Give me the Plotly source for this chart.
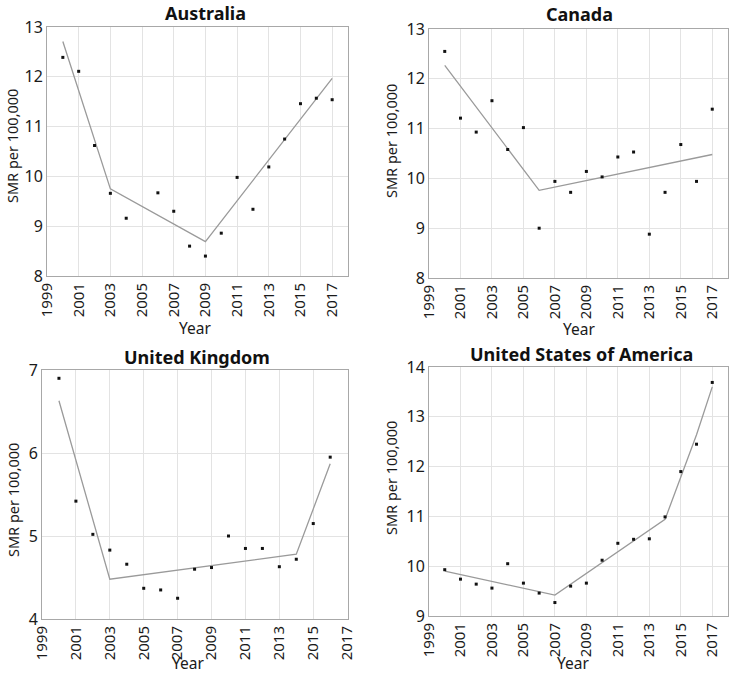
import plotly.graph_objects as go

years = list(range(2000, 2018))
uk_years = list(range(2000, 2017))

aus_obs = [12.39, 12.11, 10.62, 9.66, 9.16, 7.97, 9.67, 9.30, 8.60, 8.40, 8.86, 9.98, 9.34, 10.19, 10.75, 11.46, 11.57, 11.54]
aus_fit_x = [2000, 2003, 2009, 2017]
aus_fit_y = [12.71, 9.75, 8.69, 11.97]

can_obs = [12.55, 11.21, 10.93, 11.56, 10.58, 11.02, 9.00, 9.94, 9.72, 10.14, 10.03, 10.43, 10.53, 8.88, 9.72, 10.68, 9.94, 11.39]
can_fit_x = [2000, 2006, 2017]
can_fit_y = [12.27, 9.76, 10.48]

uk_obs = [6.90, 5.42, 5.02, 4.83, 4.66, 4.37, 4.35, 4.25, 4.60, 4.62, 5.00, 4.85, 4.85, 4.63, 4.72, 5.15, 5.95]
uk_fit_x = [2000, 2003, 2014, 2016]
uk_fit_y = [6.63, 4.48, 4.78, 5.87]

usa_obs = [9.93, 9.74, 9.64, 9.56, 10.05, 9.66, 9.46, 9.27, 9.60, 9.66, 10.12, 10.46, 10.54, 10.55, 10.99, 11.90, 12.45, 13.69]
usa_fit_x = [2000, 2007, 2014, 2015, 2016, 2017]
usa_fit_y = [9.90, 9.42, 10.94, 11.78, 12.64, 13.60]

panels = [
    dict(name="Australia", x=years, y=aus_obs, fx=aus_fit_x, fy=aus_fit_y, yr=[8, 13], xr=[1999, 2018],
         dx=[47, 348], dy=[27, 276], title=(205, 13), ytitle=(12, 146), xtitle=(195, 328)),
    dict(name="Canada", x=years, y=can_obs, fx=can_fit_x, fy=can_fit_y, yr=[8, 13], xr=[1999, 2018],
         dx=[429, 728], dy=[29, 278], title=(579, 14), ytitle=(391, 141), xtitle=(579, 329)),
    dict(name="United Kingdom", x=uk_years, y=uk_obs, fx=uk_fit_x, fy=uk_fit_y, yr=[4, 7], xr=[1999, 2017.05],
         dx=[42, 348], dy=[370, 619], title=(197, 357), ytitle=(13, 500), xtitle=(188, 663)),
    dict(name="United States of America", x=years, y=usa_obs, fx=usa_fit_x, fy=usa_fit_y, yr=[9, 14], xr=[1999, 2018],
         dx=[429, 728], dy=[367, 616], title=(581, 354), ytitle=(391, 478), xtitle=(573, 663)),
]

W, H = 733, 676
FONT = "Noto Sans"
TXT = "#1a1a1a"

fig = go.Figure()
layout = dict(width=W, height=H, autosize=False, margin=dict(l=0, r=0, t=0, b=0, pad=0),
              paper_bgcolor="white", plot_bgcolor="white", showlegend=False,
              font=dict(family=FONT, color=TXT))
annotations = []

for i, p in enumerate(panels, start=1):
    xa = "x" if i == 1 else f"x{i}"
    ya = "y" if i == 1 else f"y{i}"
    fig.add_trace(go.Scatter(x=p["fx"], y=p["fy"], mode="lines",
                             line=dict(color="#9a9a9a", width=1.3), xaxis=xa, yaxis=ya))
    fig.add_trace(go.Scatter(x=p["x"], y=p["y"], mode="markers", cliponaxis=False,
                             marker=dict(symbol="square", size=3, color="#111111"),
                             xaxis=xa, yaxis=ya))
    xk = "xaxis" if i == 1 else f"xaxis{i}"
    yk = "yaxis" if i == 1 else f"yaxis{i}"
    layout[xk] = dict(domain=[p["dx"][0] / W, p["dx"][1] / W], range=p["xr"], anchor=ya,
                      automargin=False,
                      tickmode="array", tickvals=list(range(1999, 2018, 2)),
                      ticktext=[str(v) for v in range(1999, 2018, 2)],
                      tickangle=-90, tickfont=dict(size=15, color=TXT),
                      showgrid=True, gridcolor="#e3e3e3", gridwidth=1,
                      showline=True, linecolor="#a8a8a8", linewidth=1, mirror=True,
                      zeroline=False, ticks="", ticklen=0)
    layout[yk] = dict(domain=[1 - p["dy"][1] / H, 1 - p["dy"][0] / H], range=p["yr"], anchor=xa,
                      automargin=False,
                      dtick=1, tickfont=dict(size=16, color=TXT),
                      showgrid=True, gridcolor="#e3e3e3", gridwidth=1,
                      showline=True, linecolor="#a8a8a8", linewidth=1, mirror=True,
                      zeroline=False, ticks="", ticklen=0)
    tx, ty = p["title"]
    annotations.append(dict(text=f"<b>{p['name']}</b>", x=tx / W, y=1 - ty / H, xref="paper", yref="paper",
                            xanchor="center", yanchor="middle", showarrow=False,
                            font=dict(size=18, family=FONT, color="#111")))
    yx, yy = p["ytitle"]
    annotations.append(dict(text="SMR per 100,000", x=yx / W, y=1 - yy / H, xref="paper", yref="paper",
                            xanchor="center", yanchor="middle", showarrow=False, textangle=-90,
                            font=dict(size=14.5, family=FONT, color=TXT)))
    xx, xy = p["xtitle"]
    annotations.append(dict(text="Year", x=xx / W, y=1 - xy / H, xref="paper", yref="paper",
                            xanchor="center", yanchor="middle", showarrow=False,
                            font=dict(size=15.5, family=FONT, color=TXT)))

layout["annotations"] = annotations
fig.update_layout(**layout)
fig.write_html("out.html", config={"displayModeBar": False},
               post_script="document.body.style.margin='0';document.body.style.padding='0';document.body.style.overflow='hidden';")
